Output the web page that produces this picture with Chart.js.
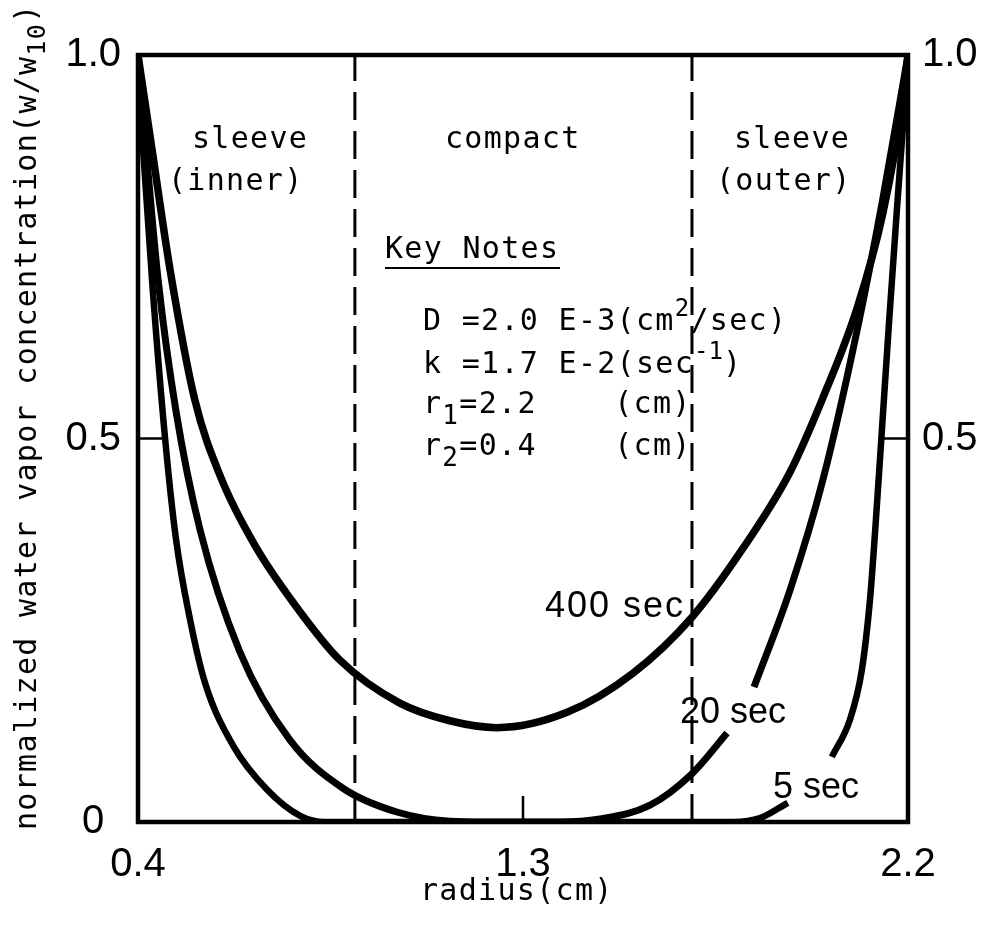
<!DOCTYPE html>
<html lang="en">
<head>
    <meta charset="utf-8">
    <title>Water vapor concentration vs radius</title>
    <style>
        body { margin: 0; background: #fff; }
        canvas { display: block; }
    </style>
    <script src="https://cdn.jsdelivr.net/npm/chart.js"></script>
</head>
<body>
    <canvas id="chart" width="992" height="934"></canvas>

    <script>
        // ---- data ----
        const xTickVals = [0.4, 1.3, 2.2];
        const yTickVals = [0, 0.5, 1.0];

        // 400 sec
        const r400 = [0.4, 0.433, 0.475, 0.533, 0.596, 0.673, 0.767, 0.872, 1.012, 1.129, 1.239, 1.403, 1.557, 1.695, 1.812, 1.924, 2.001, 2.081, 2.141, 2.188, 2.2];
        const w400 = [1.0, 0.876, 0.720, 0.550, 0.446, 0.361, 0.283, 0.211, 0.155, 0.132, 0.123, 0.143, 0.194, 0.267, 0.355, 0.456, 0.553, 0.670, 0.793, 0.941, 1.0];

        // 20 sec (null = gap left for the label)
        const r20 = [0.4, 0.419, 0.447, 0.489, 0.545, 0.638, 0.755, 0.879, 1.005, 1.129, 1.206, 1.386, 1.48, 1.597, 1.695, 1.777, 1.808, 1.84, 1.924, 2.001, 2.081, 2.141, 2.2];
        const w20 = [1.0, 0.876, 0.707, 0.535, 0.381, 0.222, 0.107, 0.044, 0.013, 0.001, 0, 0, 0.004, 0.022, 0.063, 0.116, null, 0.176, 0.302, 0.446, 0.641, 0.812, 1.0];

        // 5 sec
        const r5 = [0.4, 0.412, 0.433, 0.463, 0.489, 0.522, 0.557, 0.622, 0.702, 0.779, 0.837, 1.246, 1.791, 1.854, 1.919, 1.97, 2.022, 2.064, 2.092, 2.111, 2.125, 2.139, 2.156, 2.174, 2.191, 2.2];
        const w5 = [1.0, 0.876, 0.705, 0.502, 0.368, 0.263, 0.181, 0.100, 0.042, 0.008, 0, 0, 0, 0.005, 0.025, null, 0.085, 0.133, 0.198, 0.289, 0.394, 0.511, 0.654, 0.798, 0.928, 1.0];

        // region boundaries (dashed)
        const rBounds = [0.907, 1.695];

        const SANS = '"Liberation Sans", Arial, sans-serif';
        const MONO = '"DejaVu Sans Mono", monospace';

        const pts = (xs, ys) => xs.map((x, i) => ({ x: x, y: ys[i] }));

        const curve = (label, xs, ys, w) => ({
            label: label,
            data: pts(xs, ys),
            borderColor: '#000',
            borderWidth: w,
            pointRadius: 0,
            cubicInterpolationMode: 'monotone',
            spanGaps: false,
            fill: false
        });

        const datasets = [
            curve('400 sec', r400, w400, 7.5),
            curve('20 sec', r20, w20, 7),
            curve('5 sec', r5, w5, 6.5)
        ];
        rBounds.forEach(r => datasets.push({
            label: 'bound',
            data: [{ x: r, y: 0 }, { x: r, y: 1 }],
            borderColor: '#000',
            borderWidth: 3,
            borderDash: [28, 11],
            pointRadius: 0,
            fill: false
        }));

        // text helper: runs of text with offsets (sup/sub) in monospace
        function drawRich(ctx, x, y, parts, size, spacing) {
            let cx = x;
            parts.forEach(p => {
                ctx.font = (p.size || size) + 'px ' + MONO;
                ctx.letterSpacing = (p.sp !== undefined ? p.sp : spacing) + 'px';
                ctx.fillText(p.t, cx, y + (p.dy || 0));
                cx += ctx.measureText(p.t).width;
            });
            ctx.letterSpacing = '0px';
        }

        const framePlugin = {
            id: 'frame',
            beforeDatasetsDraw(chart) {
                const { ctx, chartArea: a, scales } = chart;
                ctx.save();
                ctx.strokeStyle = '#000';
                ctx.lineWidth = 4.5;
                ctx.strokeRect(a.left, a.top, a.right - a.left, a.bottom - a.top);

                // inward tick marks at the inner tick values
                ctx.lineWidth = 2.5;
                const len = 26;
                scales.x.ticks.forEach(t => {
                    if (t.value === scales.x.min || t.value === scales.x.max) return;
                    const px = scales.x.getPixelForValue(t.value);
                    ctx.beginPath();
                    ctx.moveTo(px, a.bottom);
                    ctx.lineTo(px, a.bottom - len);
                    ctx.stroke();
                });
                scales.y.ticks.forEach(t => {
                    if (t.value === scales.y.min || t.value === scales.y.max) return;
                    const py = scales.y.getPixelForValue(t.value);
                    ctx.beginPath();
                    ctx.moveTo(a.left, py);
                    ctx.lineTo(a.left + len, py);
                    ctx.moveTo(a.right, py);
                    ctx.lineTo(a.right - len, py);
                    ctx.stroke();
                });
                ctx.restore();
            }
        };

        const textPlugin = {
            id: 'texts',
            afterDraw(chart) {
                const { ctx } = chart;
                ctx.save();
                ctx.fillStyle = '#000';
                ctx.textAlign = 'left';
                ctx.textBaseline = 'alphabetic';
                const fs = 30, sp = 1.3;

                // region names
                drawRich(ctx, 192, 148, [{ t: 'sleeve' }], fs, sp);
                drawRich(ctx, 168, 190, [{ t: '(inner)' }], fs, sp);
                drawRich(ctx, 445, 148, [{ t: 'compact' }], fs, sp);
                drawRich(ctx, 734, 148, [{ t: 'sleeve' }], fs, sp);
                drawRich(ctx, 716, 190, [{ t: '(outer)' }], fs, sp);

                // key notes
                drawRich(ctx, 385, 258, [{ t: 'Key Notes' }], fs, sp);
                ctx.strokeStyle = '#000';
                ctx.lineWidth = 2;
                ctx.beginPath();
                ctx.moveTo(385, 268);
                ctx.lineTo(560, 268);
                ctx.stroke();

                drawRich(ctx, 423, 330, [
                    { t: 'D =2.0 E-3(cm' },
                    { t: '2', dy: -14, size: 24 },
                    { t: '/sec)' }
                ], fs, sp);
                drawRich(ctx, 423, 373, [
                    { t: 'k =1.7 E-2(sec' },
                    { t: '-1', dy: -14, size: 24, sp: 0 },
                    { t: ')' }
                ], fs, sp);
                drawRich(ctx, 423, 413, [
                    { t: 'r' },
                    { t: '1', dy: 11, size: 26 },
                    { t: '=2.2    (cm)' }
                ], fs, sp);
                drawRich(ctx, 423, 455, [
                    { t: 'r' },
                    { t: '2', dy: 11, size: 26 },
                    { t: '=0.4    (cm)' }
                ], fs, sp);

                // curve labels
                ctx.font = '36px ' + SANS;
                ctx.letterSpacing = '2px';
                ctx.fillText('400 sec', 545, 617);
                ctx.letterSpacing = '0px';
                ctx.fillText('20 sec', 680, 723);
                ctx.fillText('5 sec', 773, 798);

                // x axis title
                drawRich(ctx, 420, 900, [{ t: 'radius(cm)' }], fs, sp);

                // y axis title, rotated
                ctx.translate(36, 830);
                ctx.rotate(-Math.PI / 2);
                drawRich(ctx, 0, 0, [
                    { t: 'normalized water vapor concentration(w/w' },
                    { t: '10', dy: 9, size: 25 },
                    { t: ')' }
                ], fs, sp);
                ctx.restore();
            }
        };

        new Chart(document.getElementById('chart'), {
            type: 'line',
            data: { datasets: datasets },
            plugins: [framePlugin, textPlugin],
            options: {
                responsive: false,
                animation: false,
                events: [],
                layout: { padding: { top: 55, left: 0, right: 0, bottom: 0 } },
                plugins: {
                    legend: { display: false },
                    tooltip: { enabled: false }
                },
                scales: {
                    x: {
                        type: 'linear',
                        min: 0.4,
                        max: 2.2,
                        afterBuildTicks: s => { s.ticks = xTickVals.map(v => ({ value: v })); },
                        afterFit: s => { s.height = 112; },
                        grid: { display: false },
                        border: { display: false },
                        ticks: {
                            color: '#000',
                            padding: 11,
                            maxRotation: 0,
                            font: { family: SANS, size: 40 },
                            callback: v => v.toFixed(1)
                        }
                    },
                    y: {
                        type: 'linear',
                        position: 'left',
                        min: 0,
                        max: 1,
                        afterBuildTicks: s => { s.ticks = yTickVals.map(v => ({ value: v })); },
                        afterFit: s => { s.width = 138; },
                        grid: { display: false },
                        border: { display: false },
                        ticks: {
                            color: '#000',
                            padding: 9,
                            crossAlign: 'center',
                            font: { family: SANS, size: 40 },
                            callback: v => v === 0 ? '0' : v.toFixed(1)
                        }
                    },
                    y2: {
                        type: 'linear',
                        position: 'right',
                        min: 0,
                        max: 1,
                        afterBuildTicks: s => { s.ticks = yTickVals.map(v => ({ value: v })); },
                        afterFit: s => { s.width = 84; },
                        grid: { display: false },
                        border: { display: false },
                        ticks: {
                            color: '#000',
                            padding: 6,
                            font: { family: SANS, size: 40 },
                            callback: v => v === 0 ? '' : v.toFixed(1)
                        }
                    }
                }
            }
        });
    </script>
</body>
</html>
